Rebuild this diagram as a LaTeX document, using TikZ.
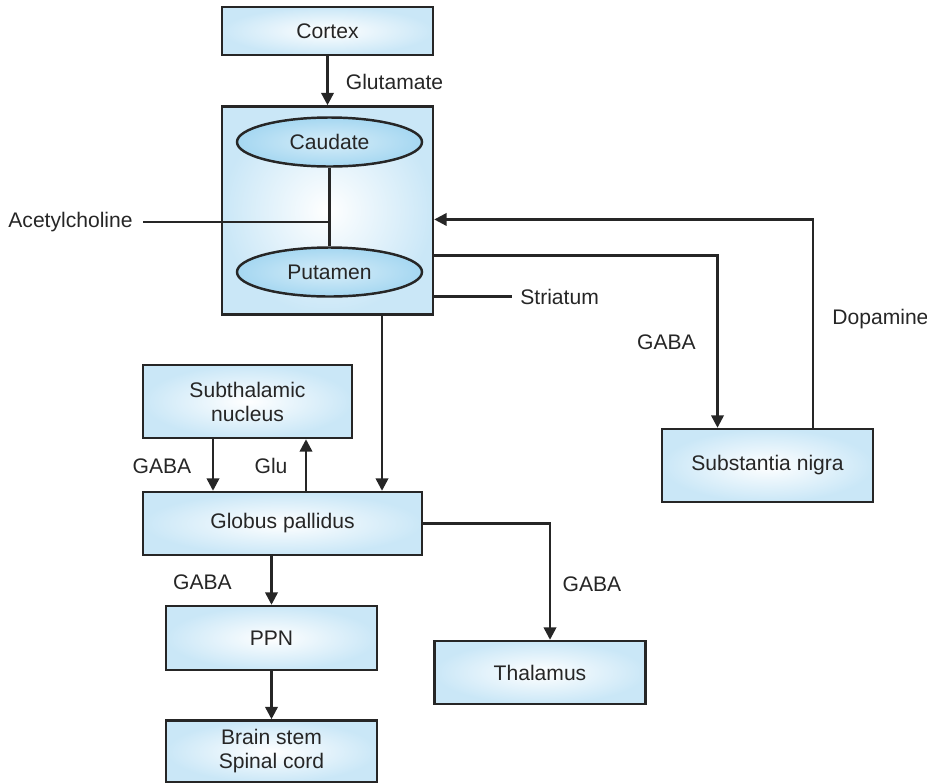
\documentclass[tikz,border=0pt]{standalone}
\usepackage{fontspec}
\setmainfont{Liberation Sans}
\usepackage{tikz}
\usetikzlibrary{shapes.geometric, arrows.meta, positioning, calc}

\definecolor{boxblue}{RGB}{202,231,247}
\definecolor{ovalblue}{RGB}{165,215,241}
\definecolor{inkgray}{RGB}{38,38,38}

\begin{document}
\begin{tikzpicture}[
    node distance=0.98cm,
    font=\fontsize{12}{13.7}\selectfont,
    text=inkgray,
    box/.style={rectangle, minimum width=4.22cm, minimum height=1.26cm, align=center, draw=inkgray, line width=1.4pt, inner color=white, outer color=boxblue},
    oval/.style={ellipse, minimum width=3.7cm, minimum height=0.98cm, draw=inkgray, line width=1.4pt, inner color=ovalblue!45, outer color=ovalblue},
    arrow/.style={line width=1.4pt, draw=inkgray, -{Triangle[length=7pt,width=7pt]}},
    line/.style={line width=1.4pt, draw=inkgray},
    lbl/.style={inner sep=0pt}
]
    \useasboundingbox (0,0) rectangle (18.54,-15.64);

    % striatum with its two nuclei
    \node (cortex) [box, minimum height=0.96cm] at (6.55,-0.62) {Cortex};
    \node (striatum) [box, below=0.98cm of cortex, minimum height=4.16cm] {};
    \node (caudate) [oval] at (6.59,-2.84) {Caudate};
    \node (putamen) [oval] at (6.59,-5.44) {Putamen};

    \node (stn) [box, minimum width=4.18cm, minimum height=1.46cm] at (4.95,-8.03) {Subthalamic\\nucleus};
    \node (gp) [box, minimum width=5.58cm] at (5.65,-10.47) {Globus pallidus};
    \node (sn) [box, minimum height=1.46cm] at (15.35,-9.31) {Substantia nigra};
    \node (thal) [box] at (10.8,-13.45) {Thalamus};
    \node (ppn) [box, minimum height=1.28cm] at (5.43,-12.76) {PPN};
    \node (stem) [box, below=0.96cm of ppn, minimum height=1.24cm] {Brain stem\\Spinal cord};

    % transmitter labels
    \coordinate (achend) at (2.86,-4.44);
    \node (ach) [lbl, left=0.2cm of achend] {Acetylcholine};
    \coordinate (strend) at (10.24,-5.93);
    \node (strtag) [lbl, right=0.16cm of strend] {Striatum};
    \node (glut) [lbl, anchor=west] at (6.91,-1.64) {Glutamate};
    \node (dopa) [lbl, anchor=west] at (16.64,-6.38) {Dopamine};
    \node (gabasn) [lbl] at (13.33,-6.84) {GABA};
    \node (gabastn) [lbl] at (3.24,-9.32) {GABA};
    \node (glu) [lbl] at (5.42,-9.32) {Glu};
    \node (gabappn) [lbl] at (4.05,-11.64) {GABA};
    \node (gabathal) [lbl] at (11.84,-11.68) {GABA};

    \draw [arrow] (cortex) -- (striatum);
    \draw [line] (caudate) -- (putamen);
    \draw [line] (achend) -- (achend -| caudate);
    \draw [line] (strend -| striatum.east) -- (strend);

    \draw [arrow] ([xshift=0.91cm]sn.north) |- ([yshift=-0.18cm]striatum.east);
    \draw [arrow] ([yshift=-0.9cm]striatum.east) -| ([xshift=-1.0cm]sn.north);

    \coordinate (strout) at ([xshift=1.09cm]striatum.south);
    \draw [arrow] (strout) -- (strout |- gp.north);

    \coordinate (stnout) at ([xshift=-0.69cm]stn.south);
    \coordinate (stnin) at ([xshift=1.17cm]stn.south);
    \draw [arrow] (stnout) -- (stnout |- gp.north);
    \draw [arrow] (stnin |- gp.north) -- (stnin);

    \draw [arrow] (gp.east) -| ([xshift=0.2cm]thal.north);
    \draw [arrow] (ppn.north |- gp.south) -- (ppn.north);
    \draw [arrow] (ppn) -- (stem);
\end{tikzpicture}
\end{document}
